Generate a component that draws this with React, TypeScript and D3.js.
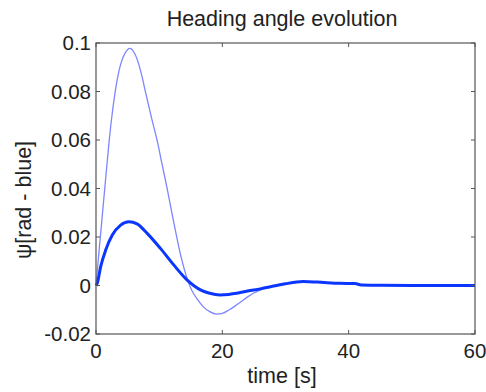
import React from "react";
import * as d3 from "d3";

// Thin (light blue) trace: time [s], heading [rad]
const thinTime = [0, 0.65, 1.0, 1.42, 2.06, 2.5, 2.96, 3.4, 3.9, 4.6, 5.38, 6.1, 6.8, 7.3, 7.86, 8.8, 9.7, 10.5, 11.3, 12.2, 13.4, 14.0, 14.6, 15.2, 16, 17, 18, 19.1, 20, 21, 22, 23, 24, 25, 26, 27, 28, 30, 32.8, 35, 38.6, 41, 42, 45, 50, 60];
const thinPsi = [0, 0.019, 0.029, 0.041, 0.059, 0.0695, 0.0785, 0.0855, 0.0912, 0.0958, 0.0978, 0.0958, 0.091, 0.086, 0.0795, 0.069, 0.0595, 0.0495, 0.0395, 0.0275, 0.0125, 0.0065, 0.0015, -0.0022, -0.0055, -0.0088, -0.0108, -0.0118, -0.0115, -0.0102, -0.0085, -0.0066, -0.0047, -0.0031, -0.0019, -0.001, -0.0003, 0.0007, 0.0015, 0.0013, 0.0009, 0.0008, 0.0002, 0.0001, 0, 0];

// Thick (blue) trace
const thickTime = [0, 0.2, 0.74, 1.53, 2.58, 3.9, 5.2, 6.5, 8.1, 10.2, 12.3, 14.4, 16.6, 18, 19.6, 21, 22, 23, 24, 26, 28.6, 30, 32.8, 35, 38.6, 41, 42, 45, 50, 60];
const thickPsi = [0, 0.0009, 0.0078, 0.0146, 0.0208, 0.0249, 0.0263, 0.0254, 0.0215, 0.0153, 0.0085, 0.0023, -0.0019, -0.0032, -0.0039, -0.0037, -0.0033, -0.0028, -0.0023, -0.0014, 0.0, 0.0007, 0.0016, 0.0014, 0.0009, 0.0008, 0.0002, 0.0001, 0, 0];

const xTicks = [0, 20, 40, 60];
const yTicks = [-0.02, 0, 0.02, 0.04, 0.06, 0.08, 0.1];
const yTickLabels = ["-0.02", "0", "0.02", "0.04", "0.06", "0.08", "0.1"];

const title = "Heading angle evolution";
const xLabel = "time [s]";
const yLabel = "ψ[rad - blue]";

export default function App() {
  const W = 486, H = 392;
  const left = 96, right = 475, top = 43, bottom = 334;
  const x = d3.scaleLinear().domain([0, 60]).range([left, right]);
  const y = d3.scaleLinear().domain([-0.02, 0.1]).range([bottom, top]);
  const line = d3
    .line<[number, number]>()
    .x((d) => x(d[0]))
    .y((d) => y(d[1]))
    .curve(d3.curveMonotoneX);
  const thin = line(thinTime.map((t, i) => [t, thinPsi[i]]) as [number, number][]) || "";
  const thick = line(thickTime.map((t, i) => [t, thickPsi[i]]) as [number, number][]) || "";
  const font = "'Liberation Sans', Arial, Helvetica, sans-serif";
  const axisColor = "#555";
  const tl = 4;
  return (
    <svg
      width={W}
      height={H}
      style={{ position: "absolute", left: 0, top: 0, background: "#fff" }}
      fontFamily={font}
    >
      <rect x={0} y={0} width={W} height={H} fill="#fff" />
      <path d={thin} fill="none" stroke="#7d86ff" strokeWidth={1.3} />
      <path d={thick} fill="none" stroke="#0a36ff" strokeWidth={3} />
      <rect x={left} y={top} width={right - left} height={bottom - top} fill="none" stroke={axisColor} strokeWidth={1.2} />
      {xTicks.map((t) => (
        <g key={"x" + t}>
          <line x1={x(t)} x2={x(t)} y1={bottom} y2={bottom - tl} stroke={axisColor} />
          <line x1={x(t)} x2={x(t)} y1={top} y2={top + tl} stroke={axisColor} />
          <text x={x(t)} y={358} textAnchor="middle" fontSize={20.5} fill="#222">
            {t}
          </text>
        </g>
      ))}
      {yTicks.map((t, i) => (
        <g key={"y" + i}>
          <line x1={left} x2={left + tl} y1={y(t)} y2={y(t)} stroke={axisColor} />
          <line x1={right} x2={right - tl} y1={y(t)} y2={y(t)} stroke={axisColor} />
          <text x={91} y={y(t)} dy="0.36em" textAnchor="end" fontSize={20.5} fill="#222">
            {yTickLabels[i]}
          </text>
        </g>
      ))}
      <text x={282} y={26} textAnchor="middle" fontSize={21.5} fill="#222">
        {title}
      </text>
      <text x={282} y={383} textAnchor="middle" fontSize={21.5} fill="#222">
        {xLabel}
      </text>
      <text
        transform={`translate(31,200) rotate(-90)`}
        textAnchor="middle"
        fontSize={21.5}
        fill="#222"
      >
        {yLabel}
      </text>
    </svg>
  );
}
